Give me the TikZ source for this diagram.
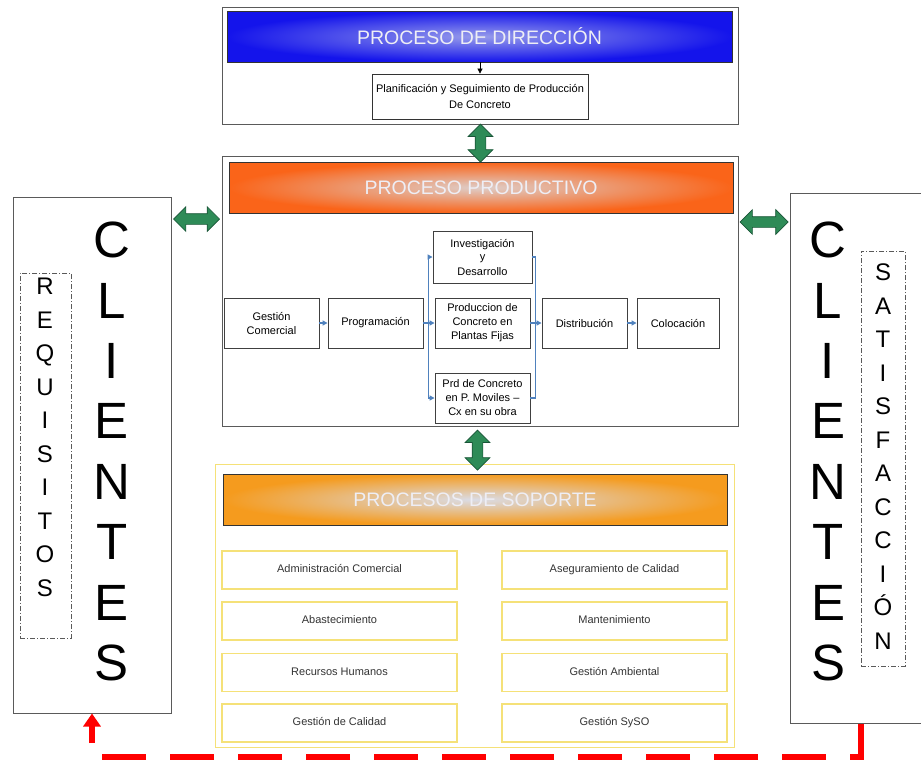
\documentclass[tikz,border=0pt]{standalone}
\usepackage{fontspec}
\setmainfont{Liberation Sans}
\usetikzlibrary{shapes.arrows,arrows.meta,calc}

\definecolor{dirblue}{RGB}{20,20,235}
\definecolor{dirlight}{RGB}{150,155,235}
\definecolor{prodorange}{RGB}{250,100,25}
\definecolor{prodlight}{RGB}{222,205,200}
\definecolor{soporange}{RGB}{245,155,30}
\definecolor{soplight}{RGB}{218,220,230}
\definecolor{titlegray}{RGB}{238,238,245}
\definecolor{arrowgreen}{RGB}{46,139,87}
\definecolor{arrowdark}{RGB}{25,85,55}
\definecolor{linkblue}{RGB}{79,129,189}
\definecolor{boxyellow}{RGB}{245,225,120}
\definecolor{framegray}{RGB}{90,90,90}

\tikzset{
    outerbox/.style={draw=framegray,line width=1pt,inner sep=0pt},
    titlebar/.style={draw=black!80,line width=0.8pt,inner sep=0pt,text=titlegray,
        minimum width=505pt,minimum height=51pt,font=\fontsize{19.5}{22}\selectfont},
    procbox/.style={draw=black!75,line width=0.9pt,inner sep=0pt,minimum height=50pt,
        align=center,font=\fontsize{11}{14}\selectfont},
    supbox/.style={draw=boxyellow,line width=1.5pt,inner sep=0pt,minimum height=38pt,
        text height=8pt,text depth=2.5pt,text=black!80,font=\fontsize{11}{14}\selectfont},
    link/.style={draw=linkblue,line width=1.3pt},
    linkarrow/.style={link,-{Triangle[length=5pt,width=5pt]}},
    fatarrow/.style={double arrow,fill=arrowgreen,draw=arrowdark,line width=0.7pt,
        inner xsep=0pt,inner ysep=5pt,double arrow head extend=7pt},
    bigletters/.style={align=center,font=\fontsize{51}{60.4}\selectfont},
    smallletters/.style={align=center,font=\fontsize{24}{33.5}\selectfont},
    dashdotbox/.style={draw=black!65,line width=0.8pt,inner sep=0pt,
        dash pattern=on 5pt off 2pt on 1pt off 2pt},
    feedback/.style={draw=red,line width=6pt,dash pattern=on 44pt off 24pt,
        -{Triangle[length=13pt,width=17pt]}}
}

\begin{document}
\begin{tikzpicture}[x=1pt,y=-1pt]
    \useasboundingbox[fill=white] (0,0) rectangle (921,763);

    \node[outerbox,minimum width=516pt,minimum height=117pt] (dirbox) at (480,65.5) {};
    \node[titlebar,inner color=dirlight,outer color=dirblue] (dirbar) at (479.5,36.5) {PROCESO DE DIRECCIÓN};
    \node[draw=black!80,line width=0.8pt,inner sep=0pt,minimum width=216pt,minimum height=45pt,
        align=center,font=\fontsize{11}{16}\selectfont] (plan) at (480,96.5)
        {Planificación y Seguimiento de Producción\\De Concreto};
    \draw[line width=0.7pt,-{Triangle[length=5pt,width=5pt]}] (plan.north |- dirbar.south) -- (plan.north);

    \node[outerbox,minimum width=516pt,minimum height=270pt] (prodbox) at (480,291) {};
    \node[titlebar,minimum width=504pt,inner color=prodlight,outer color=prodorange] (prodbar) at (481,187.5) {PROCESO PRODUCTIVO};
    \node[procbox,minimum width=95pt] (gescom) at (271.5,323) {Gestión\\Comercial};
    \node[procbox,minimum width=95pt] (prog) at (375.5,323) {Programación};
    \node[procbox,minimum width=99pt,minimum height=52pt] (invdes) at (482.5,257) {Investigación\\y\\ Desarrollo};
    \node[procbox,minimum width=95pt] (prodfij) at (482.5,323) {Produccion de\\Concreto en\\Plantas Fijas};
    \node[procbox,minimum width=95pt] (prodmov) at (482.5,398) {Prd de Concreto\\en P. Moviles –\\Cx en su obra};
    \node[procbox,minimum width=85pt] (distrib) at (584.5,323) {Distribución};
    \node[procbox,minimum width=82pt] (coloc) at (678,323) {Colocación};

    \draw[linkarrow] (gescom) -- (prog);
    \draw[link] (prog.east) -- ++(5,0) coordinate (jl);
    \draw[linkarrow] (jl) |- (invdes.west);
    \draw[linkarrow] (jl) -- (prodfij.west);
    \draw[linkarrow] (jl) |- (prodmov.west);
    \coordinate (jr) at ($(distrib.west)+(-6,0)$);
    \draw[link] (invdes.east) -| (jr);
    \draw[link] (prodmov.east) -| (jr);
    \draw[linkarrow] (prodfij) -- (distrib);
    \draw[linkarrow] (distrib) -- (coloc);

    \node[draw=boxyellow,line width=1pt,inner sep=0pt,minimum width=519pt,minimum height=283pt] (sopbox) at (474.5,605.5) {};
    \node[titlebar,minimum width=504pt,inner color=soplight,outer color=soporange] (sopbar) at (475,499.5) {PROCESOS DE SOPORTE};
    \node[supbox,minimum width=235pt] (admcom) at (339.5,570) {Administración Comercial};
    \node[supbox,minimum width=235pt] (abast) at (339.5,621) {Abastecimiento};
    \node[supbox,minimum width=235pt] (rrhh) at (339.5,672.5) {Recursos Humanos};
    \node[supbox,minimum width=235pt] (gescal) at (339.5,723) {Gestión de Calidad};
    \node[supbox,minimum width=225pt] (asegcal) at (614.5,570) {Aseguramiento de Calidad};
    \node[supbox,minimum width=225pt] (mant) at (614.5,621) {Mantenimiento};
    \node[supbox,minimum width=225pt] (gesamb) at (614.5,672.5) {Gestión Ambiental};
    \node[supbox,minimum width=225pt] (gessyso) at (614.5,723) {Gestión SySO};

    \node[outerbox,minimum width=158pt,minimum height=516pt] (cliL) at (92,455) {};
    \node[bigletters] (cliLtxt) at (112,451.5) {C\\L\\I\\E\\N\\T\\E\\S};
    \node[dashdotbox,minimum width=51pt,minimum height=365pt] (req) at (45.5,455.5) {};
    \node[smallletters] (reqtxt) at (45,437.5) {R\\E\\Q\\U\\I\\S\\I\\T\\O\\S};

    \node[outerbox,minimum width=140pt,minimum height=530pt] (cliR) at (860,458) {};
    \node[bigletters] (cliRtxt) at (828,451.5) {C\\L\\I\\E\\N\\T\\E\\S};
    \node[dashdotbox,minimum width=44pt,minimum height=415pt] (sat) at (883,458.5) {};
    \node[smallletters] (sattxt) at (883,456.5) {S\\A\\T\\I\\S\\F\\A\\C\\C\\I\\Ó\\N};

    \coordinate (yL) at (0,219);
    \coordinate (yR) at (0,222);
    \coordinate (yB) at (0,757);
    \node[fatarrow,rotate=90,minimum height=38pt] (arrDP) at ($(dirbox.south)!0.5!(prodbar.north)$) {};
    \node[fatarrow,rotate=90,minimum height=40pt] (arrPS) at ($(prodbox.south)!0.5!(sopbar.north)$) {};
    \node[fatarrow,minimum height=46pt] (arrL) at ($(cliL.east |- yL)!0.5!(prodbox.west |- yL)$) {};
    \node[fatarrow,minimum height=48pt] (arrR) at ($(prodbox.east |- yR)!0.5!(cliR.west |- yR)$) {};

    \draw[feedback] (sat.west |- cliR.south) -- (sat.west |- yB) -| (cliL.south);
\end{tikzpicture}
\end{document}
